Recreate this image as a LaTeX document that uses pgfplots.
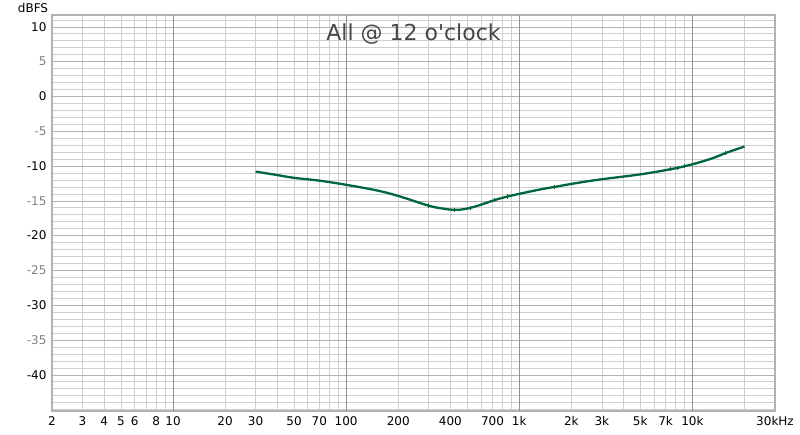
\documentclass[border=0pt]{standalone}
\usepackage{pgfplots}
\pgfplotsset{compat=1.18}
\usepackage{fontspec}
\setmainfont{DejaVu Sans}
\definecolor{curve}{RGB}{0,102,60}
\begin{document}
\begin{tikzpicture}
\path[use as bounding box] (0,0) rectangle (800pt,435pt);
\begin{axis}[
  at={(52pt,24pt)}, anchor=south west,
  scale only axis, width=723pt, height=396pt,
  xmode=log, xmin=2, xmax=30000,
  ymin=-45.2, ymax=11.7,
  xtick={2,3,4,5,6,8,10,20,30,50,70,100,200,400,700,1000,2000,3000,5000,7000,10000,30000},
  xticklabels={2,3,4,5,6,8,10,20,30,50,70,100,200,400,700,1k,2k,3k,5k,7k,10k,30kHz},
  minor xtick={2,3,4,5,6,7,8,9,20,30,40,50,60,70,80,90,200,300,400,500,600,700,800,900,2000,3000,4000,5000,6000,7000,8000,9000,20000},
  extra x ticks={10,100,1000,10000},
  extra x tick labels={},
  extra x tick style={grid=major, major grid style={gray!85, line width=0.7pt}},
  ytick={-40,-35,...,10},
  yticklabels={-40,\textcolor{gray}{-35},-30,\textcolor{gray}{-25},-20,\textcolor{gray}{-15},-10,\textcolor{gray}{-5},0,\textcolor{gray}{5},10},
  minor ytick={-45,-44,...,11},
  xminorgrids, yminorgrids, ymajorgrids,
  minor grid style={gray!38, line width=0.6pt},
  major grid style={gray!60, line width=0.6pt},
  major tick length=0pt, minor tick length=0pt,
  tick label style={font=\fontsize{12}{14}\selectfont},
  xticklabel style={yshift=-2pt},
  yticklabel style={xshift=-2pt},
  axis line style={gray!60, line width=2.4pt},
]
\addplot[curve, line width=2.3pt, smooth, tension=0.6] coordinates {
  (30,-10.8) (40,-11.3) (50,-11.7) (70,-12.1) (100,-12.7) (150,-13.5)
  (200,-14.3) (300,-15.7) (360,-16.1) (420,-16.3) (480,-16.2) (560,-15.8)
  (720,-14.9) (850,-14.4) (1000,-14.0) (1300,-13.4)
  (1600,-13.0) (2200,-12.4) (3000,-11.9) (5000,-11.2) (7700,-10.4) (10000,-9.75)
  (13000,-8.9) (15700,-8.1) (20000,-7.2)
};
\addplot[curve, only marks, mark=|, mark size=2.2pt, line width=1pt] coordinates {
  (300,-15.7) (420,-16.3) (520,-16.0) (720,-14.9) (850,-14.4)
  (1600,-13.0) (7500,-10.45) (8200,-10.25) (9000,-10.0) (15500,-8.15)
};
\node[anchor=north, font=\fontsize{22}{26}\selectfont, text=black!72] at (rel axis cs:0.5,1) [yshift=-5pt] {All @ 12 o\textquotesingle clock};
\end{axis}
\node[font=\fontsize{12}{14}\selectfont] at (33pt,427pt) {dBFS};
\end{tikzpicture}
\end{document}
